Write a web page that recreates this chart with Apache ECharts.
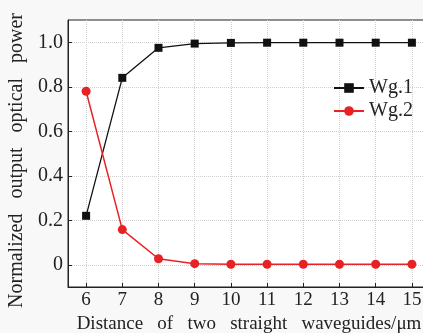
<!DOCTYPE html>
<html>
<head>
<meta charset="utf-8">
<script src="https://cdn.jsdelivr.net/npm/echarts@6/dist/echarts.min.js"></script>
<style>
  html, body { margin: 0; padding: 0; background: #f8f8f8; }
  #main { width: 423px; height: 333px; }
</style>
</head>
<body>
<div id="main"></div>
<script>
// distance between the two waveguides (um)
const distances = [6, 7, 8, 9, 10, 11, 12, 13, 14, 15];
const wg1 = [0.22, 0.84, 0.975, 0.994, 0.997, 0.998, 0.998, 0.998, 0.998, 0.998];
const wg2 = [0.78, 0.158, 0.027, 0.005, 0.002, 0.002, 0.002, 0.002, 0.002, 0.002];
const yTicks = [0, 0.2, 0.4, 0.6, 0.8, 1.0];

const serif = 'Liberation Serif';
const chart = echarts.init(document.getElementById('main'));

const pairs = (ys) => distances.map((d, i) => [d, ys[i]]);
// the original typesetting has wide word spacing
const spaced = (s, n) => s.split(' ').join(' '.repeat(n));

chart.setOption({
  backgroundColor: '#f8f8f8',
  animation: false,
  textStyle: { fontFamily: serif },
  grid: {
    left: 68, top: 20, bottom: 46, right: -7,
    outerBoundsMode: 'none',
    show: true,
    backgroundColor: '#fff',
    borderColor: '#222',
    borderWidth: 1
  },
  legend: {
    orient: 'vertical',
    left: 328,
    top: 73,
    itemWidth: 30,
    itemHeight: 12,
    itemGap: 3,
    textStyle: { fontFamily: serif, fontSize: 20, color: '#222' },
    data: ['Wg.1', 'Wg.2']
  },
  xAxis: {
    type: 'value',
    min: 5.5,
    max: 15.5,
    name: spaced('Distance of two straight waveguides/μm', 3),
    nameLocation: 'middle',
    nameGap: 27,
    nameTextStyle: { fontFamily: serif, fontSize: 19, color: '#222' },
    axisLine: { onZero: false, lineStyle: { color: '#222' } },
    axisTick: { inside: true, length: 4, customValues: distances, lineStyle: { color: '#222' } },
    axisLabel: { customValues: distances, fontFamily: serif, fontSize: 19, color: '#222', margin: 4 },
    splitLine: { show: true, lineStyle: { color: '#d0d0d0', type: 'dotted' } }
  },
  yAxis: {
    type: 'value',
    min: -0.1,
    max: 1.1,
    name: spaced('Normalized output optical power', 3),
    nameLocation: 'middle',
    nameGap: 26,
    nameTextStyle: { fontFamily: serif, fontSize: 20, color: '#222', padding: [0, 14, 0, 0] },
    axisLine: { show: true, lineStyle: { color: '#222' } },
    axisTick: { show: true, inside: true, length: 4, customValues: yTicks, lineStyle: { color: '#222' } },
    axisLabel: {
      customValues: yTicks,
      fontFamily: serif, fontSize: 20, color: '#222', margin: 5,
      formatter: (v) => (v === 0 ? '0' : v.toFixed(1))
    },
    splitLine: { show: true, lineStyle: { color: '#d0d0d0', type: 'dotted' } }
  },
  series: [
    {
      name: 'Wg.1',
      type: 'line',
      data: pairs(wg1),
      symbol: 'rect',
      symbolSize: 8,
      itemStyle: { color: '#111' },
      lineStyle: { color: '#111', width: 1.3 }
    },
    {
      name: 'Wg.2',
      type: 'line',
      data: pairs(wg2),
      symbol: 'circle',
      symbolSize: 9,
      itemStyle: { color: '#e82224' },
      lineStyle: { color: '#e82224', width: 1.5 }
    }
  ]
});
</script>
</body>
</html>
